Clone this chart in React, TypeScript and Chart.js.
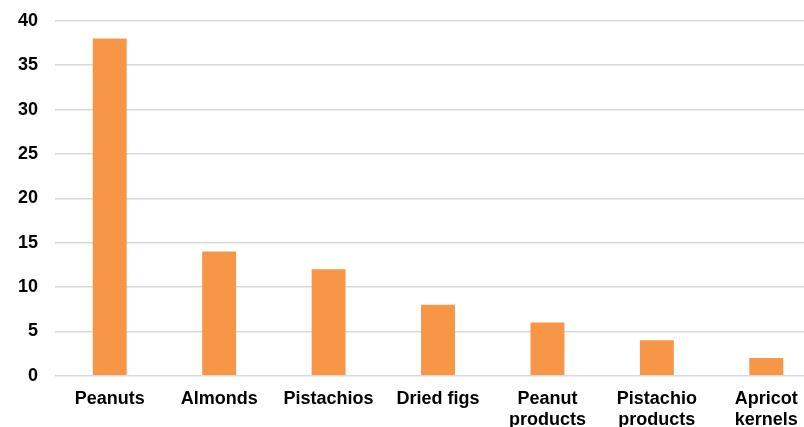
import React, { useEffect, useRef } from "react";
import { Chart, registerables } from "chart.js";

Chart.register(...registerables);

const categories: (string | string[])[] = [
  "Peanuts",
  "Almonds",
  "Pistachios",
  "Dried figs",
  ["Peanut", "products"],
  ["Pistachio", "products"],
  ["Apricot", "kernels"],
];
const values: number[] = [38, 14, 12, 8, 6, 4, 2];
const yTicks: number[] = [0, 5, 10, 15, 20, 25, 30, 35, 40];

export default function App() {
  const ref = useRef<HTMLCanvasElement | null>(null);
  useEffect(() => {
    if (!ref.current) return;
    const font = { family: "'Liberation Sans', Arial, sans-serif", size: 18, weight: "bold" as const };
    const chart = new Chart(ref.current, {
      type: "bar",
      data: {
        labels: categories,
        datasets: [
          {
            data: values,
            backgroundColor: "#F79646",
            borderWidth: 0,
            categoryPercentage: 1,
            barPercentage: 0.31,
          },
        ],
      },
      options: {
        animation: false,
        responsive: false,
        maintainAspectRatio: false,
        layout: { padding: { left: 1, top: 3, right: 0, bottom: 0 } },
        plugins: { legend: { display: false }, tooltip: { enabled: false } },
        scales: {
          x: {
            grid: { display: false, drawTicks: false },
            border: { display: false },
            ticks: { color: "#000", font, padding: 12, maxRotation: 0, autoSkip: false },
          },
          y: {
            min: 0,
            max: 40,
            afterBuildTicks: (axis: any) => {
              axis.ticks = yTicks.map((v) => ({ value: v }));
            },
            grid: { color: "#d9d9d9", lineWidth: 1.5, drawTicks: false },
            border: { display: false },
            ticks: { color: "#000", font, padding: 17 },
          },
        },
      },
    });
    return () => chart.destroy();
  }, []);
  return (
    <div style={{ position: "fixed", left: 0, top: 0, width: 804, height: 427, overflow: "hidden", background: "#fff" }}>
      <canvas ref={ref} width={821} height={450} style={{ display: "block", marginTop: -7 }} />
    </div>
  );
}
